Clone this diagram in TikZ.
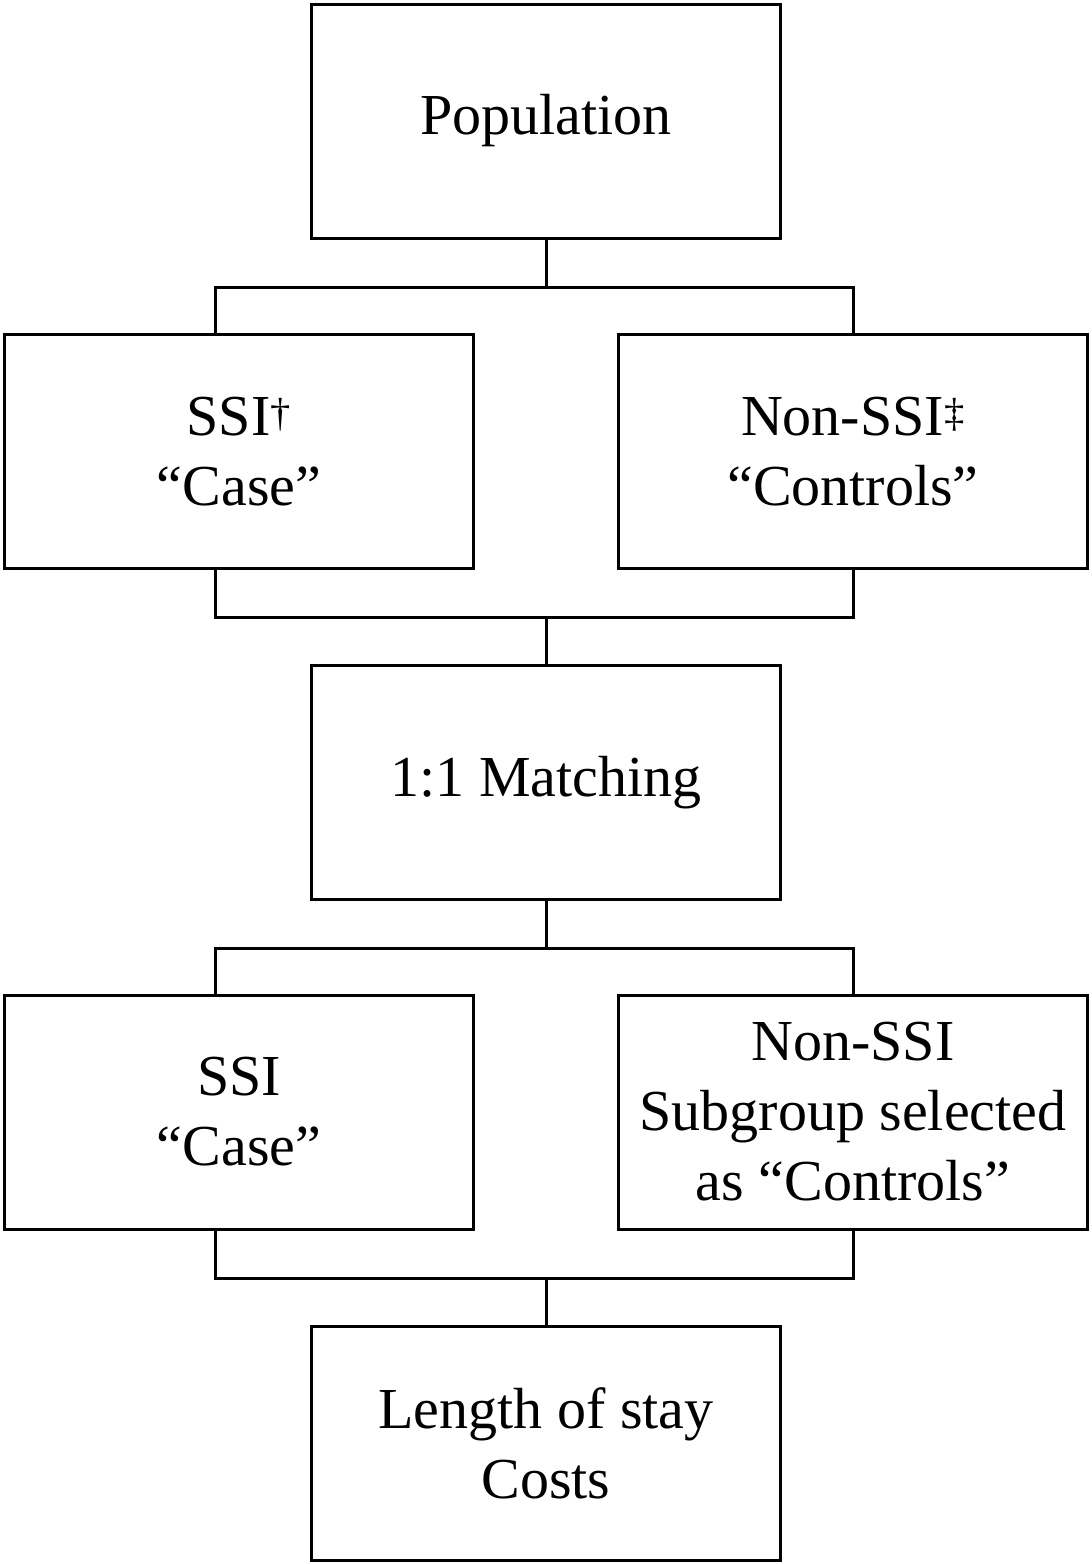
\documentclass[tikz,border=0pt]{standalone}
\usepackage{fontspec}
\setmainfont{Liberation Serif}
\usepackage{tikz}

\begin{document}
\begin{tikzpicture}[x=1pt,y=-1pt,
    box/.style={draw,line width=3pt,minimum width=469pt,minimum height=234pt,
      inner sep=0pt,align=center,font=\fontsize{58}{70}\selectfont},
    link/.style={line width=3pt,line join=miter}]
  \useasboundingbox (0,0) rectangle (1092,1564);

  \node[box] (pop) at (546,121) {Population};
  \node[box] (ssiA) at (239,451.5) {SSI\textsuperscript{†}\\“Case”};
  \node[box] (ctlA) at (853,451.5) {Non-SSI\textsuperscript{‡}\\“Controls”};
  \node[box] (match) at (546,782.5) {1:1 Matching};
  \node[box] (ssiB) at (239,1112) {SSI\\“Case”};
  \node[box] (ctlB) at (853,1112) {Non-SSI\\Subgroup selected\\as “Controls”};
  \node[box] (out) at (546,1443.5) {Length of stay\\Costs};

  \coordinate (split) at (546,287);
  \coordinate (join) at (546,617);
  \coordinate (splitB) at (546,948);
  \coordinate (joinB) at (546,1278);

  \draw[link] (pop.south) -- (split);
  \draw[link] ([xshift=-24pt]ssiA.north) |- (split) -| (ctlA.north);
  \draw[link] ([xshift=-24pt]ssiA.south) |- (join) -| (ctlA.south);
  \draw[link] (join) -- (match.north);
  \draw[link] (match.south) -- (splitB);
  \draw[link] ([xshift=-24pt]ssiB.north) |- (splitB) -| (ctlB.north);
  \draw[link] ([xshift=-24pt]ssiB.south) |- (joinB) -| (ctlB.south);
  \draw[link] (joinB) -- (out.north);
\end{tikzpicture}
\end{document}
